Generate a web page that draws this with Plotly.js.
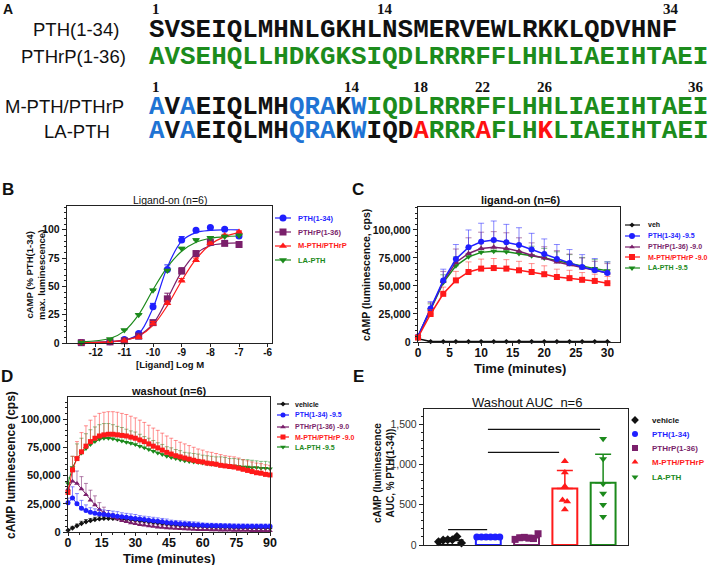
<!DOCTYPE html>
<html><head><meta charset="utf-8">
<script src="https://cdn.plot.ly/plotly-3.0.1.min.js"></script>
<style>html,body{margin:0;padding:0;background:#fff}#chart{width:709px;height:565px}</style>
</head><body><div id="chart"></div>
<script>
// ---------------- DATA ----------------
// Panel A
const pthSeq = 'SVSEIQLMHNLGKHLNSMERVEWLRKKLQDVHNF';
const pthrpSeq = 'AVSEHQLLHDKGKSIQDLRRRFFLHHLIAEIHTAEI';
const mSegments = [['A','b'],['V','k'],['A','b'],['EIQLMH','k'],['QRA','b'],['K','k'],['W','b'],['IQDLRRRFFLHHLIAEIHTAEI','g']];
const laSegments = [['A','b'],['V','k'],['A','b'],['EIQLMH','k'],['QRA','b'],['K','k'],['W','b'],['IQD','k'],['A','r'],['RRR','g'],['A','r'],['FLH','g'],['K','r'],['LIAEIHTAEI','g']];
const rowLabels = ['PTH(1-34)','PTHrP(1-36)','M-PTH/PTHrP','LA-PTH'];
const numbersTop = ['1','14','34'];
const numbersBottom = ['1','14','18','22','26','36'];

// Panel B (dose response, % PTH(1-34) max)
const logM = [-12.5,-11.5,-11,-10.5,-10,-9.5,-9,-8.5,-8,-7.5,-7];
const bPTH   = [0.5,1,3,8.5,32,65,91,99.5,102,100.5,94.5];
const bPTHrP = [0.3,1,2,6,18,39,63.5,79,89,88,87];
const bMPTH  = [0.3,1,2,5,17,35,55,73,88,95,98];
const bLA    = [0.5,3.5,11.5,25,46.5,64,83.5,91,93,94,95];
const bPTHe   = [0,0,0.5,1,3,4,3,1,1,1,2];
const bPTHrPe = [0,0,0.5,1,2,5,3,2,1,1,1];
const bMPTHe  = [0,0,0.5,1,2,2,2,2,1,1,1];
const bLAe    = [0,0,0.5,1,1,1,1,1,1,1,1];
const fitPTH   = [0.3,1,2.5,8,31,67,90,97.5,99.5,100,100];
const fitPTHrP = [0.3,1.2,2.5,6.5,17,39,63,79,86,88,88.5];
const fitMPTH  = [0.3,1,2.5,6,15.5,33,55,74,87,94,97.5];
const fitLA    = [1,4,10.5,25,47,67,81,89,92.5,94,94.5];
const bTickVals = [-12,-11,-10,-9,-8,-7,-6];
const bTickText = ['-12','-11','-10','-9','-8','-7','-6'];
const bNames = ['PTH(1-34)','PTHrP(1-36)','M-PTH/PTHrP','LA-PTH'];

// Panel C (ligand-on time course, thousands of cps)
const tC = [0,2,4,6,8,10,12,14,16,18,20,22,24,26,28,30];
const cVeh   = [3,0.4,0.4,0.4,0.4,0.4,0.4,0.4,0.4,0.4,0.4,0.4,0.4,0.4,0.4,0.4];
const cPTH   = [5,30,55,74,84.5,89.5,91,89,86.5,82.5,78.5,74,70.5,67,64,61.5];
const cPTHrP = [5,29,54,71,79,83.5,84.5,83.5,81,77.5,75,71.5,69,66,63.5,61.5];
const cMPTH  = [4,25,43,55,62.5,65.5,66,65.5,64,62.5,60.5,58,57,55.5,54.5,52.5];
const cLA    = [5,29,53,68,76,80,81,80.5,79,77,75,72.5,70,67.5,65.5,63.5];
const cPTHe   = [2,6,10,13,15.5,16.5,17,16,15.5,14.5,13.5,13,12,11,10.5,10];
const cPTHrPe = [2,6,9,12,14,14.5,14,14,12,11,10,10,9.5,9,8.5,8.5];
const cMPTHe  = [2,4,6,8,9,8.5,8.5,8,8,7.5,7.5,7,7,6.5,6,6];
const cLAe    = [2,5,7,8,8,8.5,8.5,8.5,8.5,8.5,8.5,8,8,8,8,8];
const cNames = ['veh','PTH(1-34) -9.5','PTHrP(1-36) -9.0','M-PTH/PTHrP -9.0','LA-PTH -9.5'];
const lumTickVals = [0,25,50,75,100];
const lumTickText = ['0','25,000','50,000','75,000','100,000'];

// Panel D (washout time course, thousands of cps)
const tD = [0,2,4,6,8,10,12,14,16,18,20,22,24,26,28,30,32,34,36,38,40,42,44,46,48,50,52,54,56,58,60,62,64,66,68,70,72,74,76,78,80,82,84,86,88,90];
const dVeh   = [1.5,3.5,5.5,7.5,9,10,11,11.5,12,12,12,11.8,11.5,11.2,10.8,10.4,10,9.5,9,8.5,8,7.5,7,6.6,6.2,5.9,5.6,5.3,5.1,4.9,4.7,4.5,4.4,4.3,4.2,4.1,4,3.9,3.8,3.8,3.7,3.7,3.6,3.6,3.5,3.5];
const dPTH   = [26,30,25,21,19,17.5,16.5,16,15.5,15,14.5,14,13.5,13,12.5,12,11.5,11,10.5,10,9.5,9,8.5,8,7.7,7.4,7.1,6.8,6.5,6.2,6,5.8,5.7,5.6,5.5,5.4,5.3,5.2,5.1,5.1,5,5,5,5,5,5];
const dPTHrP = [38,45,43,38,33,28,24,20,17,15,13,11.5,10,9,8,7.2,6.5,5.9,5.3,4.8,4.3,3.9,3.6,3.3,3,2.8,2.6,2.4,2.2,2.1,2,1.9,1.8,1.7,1.6,1.5,1.5,1.4,1.4,1.3,1.3,1.2,1.2,1.2,1.1,1.1];
const dMPTH  = [35,55,65,71,76,80,83,85,86,86.5,86.5,86,85.5,85,84,83,81.5,80,78,76,74.5,72.5,70.5,69,67.5,66.5,65.5,64.5,63.5,62.5,62,61,60.5,60,59,58.5,58,57.5,56.5,55.5,54.5,53.5,52.5,52,51,50.5];
const dLA    = [43,57,65,70,74,77.5,80,82,83,83,82.5,81.5,80.5,79.5,78.5,77.5,76,74.5,73,71.5,70,68.5,67,66,65,64,63,62.5,62,61.5,61,60.5,60,59.5,59.5,59,58.5,58.5,58,57.5,57.5,57,57,56.5,56.5,56];
const dVehe   = [1,1.5,1.5,2,2,2,2,2,2,2,2,2,2,2,2,2,2,2,2,2,2,2,2,2,2,2,2,2,2,2,2,2,2,2,2,2,2,2,2,2,2,2,2,2,2,2];
const dPTHe   = [4,10,9,7,5,4,4,4,4,4,4,4,3.5,3.5,3.5,3.5,3,3,3,3,3,3,3,2.5,2.5,2.5,2.5,2.5,2.5,2.5,2,2,2,2,2,2,2,2,2,2,2,2,2,2,2,2];
const dPTHrPe = [4,10,11,11,10,9,8,6,5,4,3.5,3,3,2.5,2.5,2,2,2,2,2,2,2,2,2,2,2,2,2,2,2,2,2,2,2,2,2,2,2,2,2,2,2,2,2,2,2];
const dMPTHe  = [5,12,15,17,18,19,19.5,20,20,20,20,20,19.5,19,18.5,18,17.5,17,16.5,16,15.5,15,14.5,14,13.5,13,12.5,12,11.5,11,10.5,10,10,9.5,9.5,9,9,9,9,8.5,8.5,8.5,8.5,8.5,8.5,8.5];
const dLAe    = [5,10,13,13,13,13,13,13,13,13,12.5,12,12,11.5,11,11,10.5,10,10,9.5,9,9,8.5,8.5,8,8,7.5,7.5,7.5,7.5,7,7,7,7,7,7,6.5,6.5,6.5,6.5,6.5,6.5,6,6,6,6];
const dNames = ['vehicle','PTH(1-34) -9.5','PTHrP(1-36) -9.0','M-PTH/PTHrP -9.0','LA-PTH -9.5'];
const dTickVals = [0,15,30,45,60,75,90];

// Panel E (washout AUC)
const eNames = ['vehicle','PTH(1-34)','PTHrP(1-36)','M-PTH/PTHrP','LA-PTH'];
const eMeans = [60,100,93,702,773];
const eSD    = [25,0,25,225,355];
const ePoints = [
  [40,60,65,65,105,25],
  [100,100,100,100,100,100],
  [70,90,95,85,80,140],
  [1040,900,730,560,540,440],
  [1320,1070,760,640,500,350]
];
const eTickVals = [0,500,1000,1500];
const eTickText = ['0','500','1,000','1,500'];
const sigX0 = [0.99,0.99,-0.05];
const sigX1 = [3.92,2.85,0.97];
const sigY  = [1437,1150,190];

// ---------------- STYLE / LAYOUT ----------------
const W=709, H=565;
const F='Liberation Sans, Arial, sans-serif';
const blue='#1f1fff', purple='#7a1f6b', red='#ff1a1a', green='#1c8a1c', black='#111111';
const blueE='rgba(40,40,255,0.55)', purpleE='rgba(122,31,107,0.55)', redE='rgba(255,40,40,0.5)', greenE='rgba(28,138,28,0.5)', blackE='rgba(0,0,0,0.6)';
const seqCol = {b:'#1f74d4', k:'#111111', g:'#1c8c1c', r:'#ff1010'};

const dom=(a,b)=>[a/W,b/W];
const domY=(top,bot)=>[1-bot/H,1-top/H];
const zeros=a=>a.map(()=>0);

function ax(extra){
  return Object.assign({showline:true,mirror:true,linecolor:'#222',linewidth:1.2,ticks:'outside',ticklen:4,tickwidth:1,tickcolor:'#222',
    showgrid:false,zeroline:false,fixedrange:true,tickfont:{family:F,size:10.5,color:'#111',weight:'bold'}},extra);
}
function minor(d){return {dtick:d,ticklen:2,ticks:'outside',tickcolor:'#222',tickwidth:1,showgrid:false};}

const traces=[];
// ---- B ----
const bSeries=[[bPTH,bPTHe,fitPTH,blue,blueE,'circle'],[bPTHrP,bPTHrPe,fitPTHrP,purple,purpleE,'square'],[bMPTH,bMPTHe,fitMPTH,red,redE,'triangle-up'],[bLA,bLAe,fitLA,green,greenE,'triangle-down']];
bSeries.forEach(s=>{
  traces.push({type:'scatter',mode:'lines',x:logM,y:s[2],xaxis:'x',yaxis:'y',line:{color:s[3],width:1.2,shape:'spline',smoothing:1},hoverinfo:'skip',cliponaxis:false});
});
bSeries.forEach(s=>{
  traces.push({type:'scatter',mode:'markers',x:logM,y:s[0],xaxis:'x',yaxis:'y',marker:{symbol:s[5],color:s[3],size:7},
    error_y:{type:'data',symmetric:false,array:s[1],arrayminus:zeros(s[1]),color:s[3],thickness:1,width:3},cliponaxis:false,hoverinfo:'skip'});
});
// ---- C ----
const cSeries=[[cVeh,zeros(cVeh),black,blackE,'diamond',4],[cLA,cLAe,green,greenE,'triangle-down',6],[cPTHrP,cPTHrPe,purple,purpleE,'triangle-up',6],[cPTH,cPTHe,blue,blueE,'circle',6],[cMPTH,cMPTHe,red,redE,'square',6]];
cSeries.forEach(s=>{
  traces.push({type:'scatter',mode:'lines+markers',x:tC,y:s[0],xaxis:'x2',yaxis:'y2',line:{color:s[2],width:1.5},marker:{symbol:s[4],color:s[2],size:s[5]},
    error_y:{type:'data',symmetric:false,array:s[1],arrayminus:zeros(s[1]),color:s[3],thickness:1,width:3},cliponaxis:false,hoverinfo:'skip'});
});
// ---- D ----
const dSeries=[[dVeh,dVehe,black,blackE,'diamond',4],[dPTHrP,dPTHrPe,purple,purpleE,'triangle-up',5],[dPTH,dPTHe,blue,blueE,'circle',5],[dLA,dLAe,green,greenE,'triangle-down',5],[dMPTH,dMPTHe,red,redE,'square',5]];
dSeries.forEach(s=>{
  traces.push({type:'scatter',mode:'lines+markers',x:tD,y:s[0],xaxis:'x3',yaxis:'y3',line:{color:s[2],width:1},marker:{symbol:s[4],color:s[2],size:s[5]},
    error_y:{type:'data',symmetric:false,array:s[1],arrayminus:zeros(s[1]),color:s[3],thickness:1,width:2},cliponaxis:false,hoverinfo:'skip'});
});
// ---- E ----
const eCols=[black,blue,purple,red,green];
const eSyms=['diamond','circle','square','triangle-up','triangle-down'];
eNames.forEach((n,i)=>{
  traces.push({type:'bar',x:[i],y:[eMeans[i]],xaxis:'x4',yaxis:'y4',width:0.65,marker:{color:'#ffffff',line:{color:eCols[i],width:2}},
    error_y:{type:'data',symmetric:false,array:[eSD[i]],arrayminus:[0],color:eCols[i],thickness:1.5,width:8},hoverinfo:'skip'});
});
function jitter(vals,thr,step){
  const off=vals.map(()=>0), used=vals.map(()=>false);
  for(let i=0;i<vals.length;i++){ if(used[i]) continue; const g=[i];
    for(let j=i+1;j<vals.length;j++) if(!used[j]&&Math.abs(vals[j]-vals[i])<thr) g.push(j);
    g.forEach((k,n)=>{used[k]=true; off[k]=(n-(g.length-1)/2)*step;}); }
  return off;
}
ePoints.forEach((pts,i)=>{
  const off=jitter(pts,80,0.12);
  traces.push({type:'scatter',mode:'markers',x:pts.map((v,k)=>i+off[k]),y:pts,xaxis:'x4',yaxis:'y4',marker:{symbol:eSyms[i],color:eCols[i],size:7},cliponaxis:false,hoverinfo:'skip'});
});

// ---- Legends (pixel overlay axis) ----
const ann=[];
function txt(text,x,y,size,opt){
  return Object.assign({xref:'paper',yref:'paper',x:x/W,y:1-y/H,text:text,showarrow:false,xanchor:'center',yanchor:'middle',
    font:{family:F,size:size,color:'#111'}},opt||{});
}
function legend(names,cols,syms,msz,ys,x0,x1,xm,xt,fs,withLine){
  names.forEach((nm,i)=>{
    if(withLine) traces.push({type:'scatter',mode:'lines',x:[x0,x1],y:[ys[i],ys[i]],xaxis:'x5',yaxis:'y5',line:{color:cols[i],width:1.2},hoverinfo:'skip'});
    traces.push({type:'scatter',mode:'markers',x:[xm],y:[ys[i]],xaxis:'x5',yaxis:'y5',marker:{symbol:syms[i],color:cols[i],size:msz[i]},hoverinfo:'skip'});
    ann.push(txt(nm,xt,ys[i],fs,{xanchor:'left',font:{family:F,size:fs,color:cols[i],weight:'bold'}}));
  });
}
legend(bNames,[blue,purple,red,green],['circle','square','triangle-up','triangle-down'],[7,7,7,7],[218,232,246,260],275,291,283,296,7.5,true);
legend(cNames,[black,blue,purple,red,green],['diamond','circle','triangle-up','square','triangle-down'],[4,6,5,6,6],[225,236,247,257,268],625,640,632,646,7,true);
legend(dNames,[black,blue,purple,red,green],['diamond','circle','triangle-up','square','triangle-down'],[4,5,5,5,5],[404,415,427,437,447],277,289,283,293,7,true);
legend(eNames,eCols,eSyms,[6,6,6,6,6],[420,434,448,462,477],0,0,635,650,8,false);

// ---- Panel A text ----
const pitch=15.56, seqX=148;
const colorize=segs=>segs.map(s=>`<span style="color:${seqCol[s[1]]}">${s[0]}</span>`).join('');
const seqFont={family:'Liberation Mono, Courier New, monospace',size:25.9,color:'#111',weight:'bold'};
const rowY=[30,57,107,131];
[ `<span style="color:${seqCol.k}">${pthSeq}</span>`, `<span style="color:${seqCol.g}">${pthrpSeq}</span>`, colorize(mSegments), colorize(laSegments)]
  .forEach((t,i)=>ann.push(txt(t,seqX-1,rowY[i],25.9,{xanchor:'left',font:seqFont})));
const labelX=[76,73,64,77];
rowLabels.forEach((l,i)=>ann.push(txt(l,labelX[i],rowY[i],18.5,{font:{family:F,size:18.5,color:'#111'}})));
const numFont={family:'Liberation Serif, Times New Roman, serif',size:15,color:'#111',weight:'bold'};
const topRes=[1,15.7,34.1], botRes=[1,13.6,18,22,26,35.7];
numbersTop.forEach((n,i)=>ann.push(txt(n,seqX+(topRes[i]-0.5)*pitch,9,15,{font:numFont})));
numbersBottom.forEach((n,i)=>ann.push(txt(n,seqX+(botRes[i]-0.5)*pitch,87,15,{font:numFont})));

// ---- Panel labels, titles ----
const bold=(s)=>({family:F,size:s,color:'#111',weight:'bold'});
ann.push(txt('A',8,9,14,{font:bold(14)}));
ann.push(txt('B',8,189,17,{font:bold(17)}));
ann.push(txt('C',358,189,17,{font:bold(17)}));
ann.push(txt('D',7,377,17,{font:bold(17)}));
ann.push(txt('E',358,377,17,{font:bold(17)}));
ann.push(txt('Ligand-on (n=6)',170,200,10.5,{font:{family:F,size:10.5,color:'#111'}}));
ann.push(txt('ligand-on (n=6)',520,200,11,{font:bold(11)}));
ann.push(txt('washout (n=6)',169,391,11,{font:bold(11)}));
ann.push(txt('Washout AUC&nbsp;&nbsp;n=6',527,402,13,{font:{family:F,size:13,color:'#111'}}));
ann.push(txt('[Ligand] Log M',170,364,9.5,{font:bold(9.5)}));
ann.push(txt('cAMP (% PTH(1-34)<br>max. luminescence)',35,275,9.5,{textangle:-90,font:bold(9.5)}));
ann.push(txt('Time (minutes)',520,368,13,{font:bold(13)}));
ann.push(txt('cAMP (luminescence, cps)',366,275,10.5,{textangle:-90,font:bold(10.5)}));
ann.push(txt('Time (minutes)',169,558,13,{font:bold(13)}));
ann.push(txt('cAMP luminescence (cps)',11,465,12,{textangle:-90,font:bold(12)}));
ann.push(txt('cAMP (luminescence<br>AUC, % PTH(1-34))',384,473,10,{textangle:-90,font:bold(10)}));

const shapes = sigY.map((y,i)=>({type:'line',xref:'x4',yref:'y4',x0:sigX0[i],x1:sigX1[i],y0:y,y1:y,line:{color:'#111',width:1.2}}));

const layout={
  width:W,height:H,margin:{l:0,r:0,t:0,b:0},showlegend:false,paper_bgcolor:'#ffffff',plot_bgcolor:'rgba(0,0,0,0)',
  font:{family:F,color:'#111'},
  xaxis:ax({domain:dom(67,272),range:[-13,-5.85],tickvals:bTickVals,ticktext:bTickText,anchor:'y',ticklen:3,ticklabelstandoff:-3,tickfont:{family:F,size:10,color:'#111',weight:'bold'}}),
  yaxis:ax({domain:domY(206,343),range:[0,121],tickvals:[0,25,50,75,100],anchor:'x',minor:minor(5)}),
  xaxis2:ax({domain:dom(418,620),range:[0,32],tickvals:[0,5,10,15,20,25,30],anchor:'y2',ticklen:3,ticklabelstandoff:-4,tickfont:{family:F,size:12,color:'#111',weight:'bold'}}),
  yaxis2:ax({domain:domY(207,342),range:[0,120.5],tickvals:lumTickVals,ticktext:lumTickText,anchor:'x2',minor:minor(5)}),
  xaxis3:ax({domain:dom(68,270),range:[0,90],tickvals:dTickVals,anchor:'y3',ticklen:3,ticklabelstandoff:-4,minor:minor(5),tickfont:{family:F,size:12.5,color:'#111',weight:'bold'}}),
  yaxis3:ax({domain:domY(397,532),range:[0,119.5],tickvals:lumTickVals,ticktext:lumTickText,anchor:'x3',minor:minor(5),tickfont:{family:F,size:11,color:'#111',weight:'bold'}}),
  xaxis4:ax({domain:dom(424,628),range:[-0.68,4.65],showticklabels:false,ticks:'',anchor:'y4'}),
  yaxis4:ax({domain:domY(409,545),range:[0,1690],tickvals:eTickVals,ticktext:eTickText,anchor:'x4',minor:minor(100),tickfont:{family:F,size:10.5,color:'#333'}}),
  xaxis5:{domain:[0,1],range:[0,W],visible:false,fixedrange:true,anchor:'y5'},
  yaxis5:{domain:[0,1],range:[H,0],visible:false,fixedrange:true,anchor:'x5'},
  barmode:'overlay',
  annotations:ann,shapes:shapes
};
Plotly.newPlot('chart',traces,layout,{staticPlot:true,displayModeBar:false});
</script></body></html>
